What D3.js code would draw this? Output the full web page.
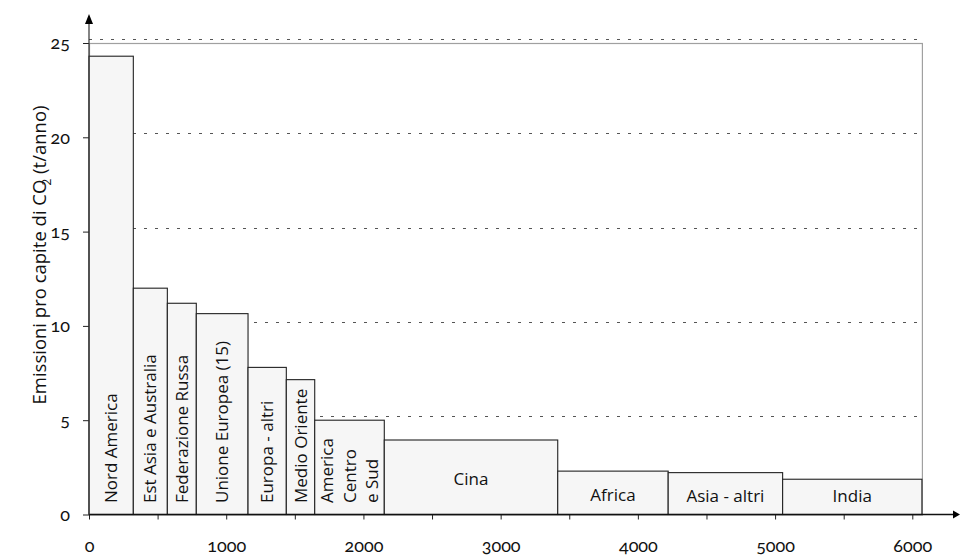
<!DOCTYPE html>
<html>
<head>
<meta charset="utf-8">
<script src="https://cdn.jsdelivr.net/npm/d3@7"></script>
<style>
  html, body { margin: 0; padding: 0; background: #fff; }
  svg { display: block; }
  .tick text { font-family: "Lato", "Noto Sans", sans-serif; font-variant-numeric: oldstyle-nums; font-feature-settings: "onum" 1; }
</style>
</head>
<body>
<svg id="chart" width="960" height="556"></svg>
<script>
// ---- Data ----
const regions = ["Nord America", "Est Asia e Australia", "Federazione Russa", "Unione Europea (15)",
  "Europa - altri", "Medio Oriente", "America Centro e Sud", "Cina", "Africa", "Asia - altri", "India"];
const labelLines = [["Nord America"], ["Est Asia e Australia"], ["Federazione Russa"], ["Unione Europea (15)"],
  ["Europa - altri"], ["Medio Oriente"], ["America", "Centro", "e Sud"], ["Cina"], ["Africa"], ["Asia - altri"], ["India"]];
// population (millions) = bar widths
const population = [323, 248, 211, 377, 279, 207, 507, 1264, 805, 834, 1015];
// emissions per capita (t/anno) = bar heights
const emissions = [24.3, 12.0, 11.2, 10.65, 7.8, 7.15, 5.0, 3.95, 2.3, 2.22, 1.87];
const xTicks = [0, 500, 1000, 1500, 2000, 2500, 3000, 3500, 4000, 4500, 5000, 5500, 6000];
const xTickLabels = [0, 1000, 2000, 3000, 4000, 5000, 6000];
const yTicks = [0, 5, 10, 15, 20, 25];
const yTitle = "Emissioni pro capite di CO";

// ---- Layout ----
const svg = d3.select("#chart");
const x = d3.scaleLinear().domain([0, 6000]).range([89, 912.3]);
const y = d3.scaleLinear().domain([0, 25]).range([514.5, 43]);

let cum = 0;
const bars = regions.map((r, i) => {
  const d = { name: r, lines: labelLines[i], x0: cum, x1: cum + population[i], v: emissions[i] };
  cum += population[i];
  return d;
});
const totalPop = cum;

// Gridlines (dotted, slightly above tick positions)
svg.append("g").selectAll("line").data(yTicks.filter(t => t > 0)).join("line")
  .attr("x1", x(0)).attr("x2", x(totalPop))
  .attr("y1", d => Math.round(y(d)) - 3.5).attr("y2", d => Math.round(y(d)) - 3.5)
  .attr("stroke", "#555").attr("stroke-width", 1).attr("stroke-dasharray", "3,8");

// Frame
svg.append("rect")
  .attr("x", x(0) + 0.5).attr("y", Math.round(y(25)) + 0.5)
  .attr("width", x(totalPop) - x(0)).attr("height", y(0) - y(25))
  .attr("fill", "none").attr("stroke", "#a0a0a0").attr("stroke-width", 1.2);

// Bars
svg.append("g").selectAll("rect").data(bars).join("rect")
  .attr("x", d => x(d.x0))
  .attr("y", d => y(d.v))
  .attr("width", d => x(d.x1) - x(d.x0))
  .attr("height", d => y(0) - y(d.v))
  .attr("fill", "#f6f6f6").attr("stroke", "#222").attr("stroke-width", 1.1);

// Bar labels
const lab = svg.append("g").attr("font-family", "'Open Sans', 'Noto Sans', sans-serif")
  .attr("font-size", 17).attr("fill", "#111");
bars.forEach(d => {
  const cx = (x(d.x0) + x(d.x1)) / 2;
  const w = x(d.x1) - x(d.x0);
  if (w < 80) {
    const n = d.lines.length;
    const lh = 22.5;
    const t = lab.append("text")
      .attr("transform", `translate(${cx},503) rotate(-90)`)
      .attr("text-anchor", "start");
    d.lines.forEach((ln, k) => {
      t.append("tspan").attr("x", 0).attr("y", (k - (n - 1) / 2) * lh).attr("dy", "0.36em").text(ln);
    });
  } else {
    const mid = (y(d.v) + y(0)) / 2;
    lab.append("text").attr("x", cx).attr("y", Math.min(mid + 8, 502))
      .attr("text-anchor", "middle").text(d.lines[0]);
  }
});

// X axis
const xAxis = d3.axisBottom(x).tickValues(xTicks).tickSize(5).tickPadding(20)
  .tickFormat(d => xTickLabels.includes(d) ? d : "");
const gx = svg.append("g").attr("transform", `translate(0,${y(0)})`).call(xAxis);
gx.select(".domain").remove();
gx.selectAll(".tick line").attr("stroke", "#222");
gx.selectAll(".tick text").attr("font-size", 18).attr("fill", "#111");
svg.append("line").attr("x1", x(0)).attr("x2", 953).attr("y1", y(0)).attr("y2", y(0))
  .attr("stroke", "#111").attr("stroke-width", 1.3);
svg.append("path").attr("d", `M953,${y(0) - 4}L960,${y(0)}L953,${y(0) + 4}Z`).attr("fill", "#000");

// Y axis
const yAxis = d3.axisLeft(y).tickValues(yTicks).tickSize(6).tickPadding(13);
const gy = svg.append("g").attr("transform", `translate(${x(0)},0)`).call(yAxis);
gy.select(".domain").remove();
gy.selectAll(".tick line").attr("stroke", "#222");
gy.selectAll(".tick text").attr("font-size", 18).attr("fill", "#111");
svg.append("line").attr("x1", x(0)).attr("x2", x(0)).attr("y1", y(0)).attr("y2", 22)
  .attr("stroke", "#333").attr("stroke-width", 1.2);
svg.append("path").attr("d", `M${x(0) - 4},24L${x(0)},14L${x(0) + 4},24Z`).attr("fill", "#000");

// Y title
const yt = svg.append("text")
  .attr("transform", `translate(46,255) rotate(-90)`)
  .attr("text-anchor", "middle")
  .attr("font-family", "'Open Sans', 'Noto Sans', sans-serif")
  .attr("font-size", 18.5).attr("fill", "#111");
yt.append("tspan").text(yTitle);
yt.append("tspan").attr("font-size", 12).attr("dx", -6).attr("dy", 5).text("2");
yt.append("tspan").attr("dy", -5).text(" (t/anno)");
</script>
</body>
</html>
